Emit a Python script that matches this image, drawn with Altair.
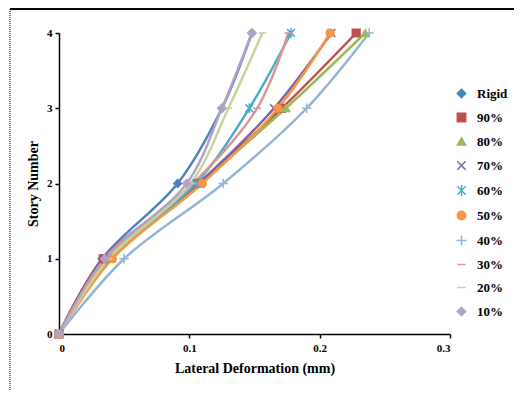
import altair as alt
import pandas as pd

stories = [0, 1, 2, 3, 4]
series_names = ["Rigid", "90%", "80%", "70%", "60%", "50%", "40%", "30%", "20%", "10%"]

rigid = [0, 0.033, 0.091, 0.125, 0.148]
p90 = [0, 0.034, 0.107, 0.171, 0.228]
p80 = [0, 0.040, 0.108, 0.174, 0.235]
p70 = [0, 0.037, 0.107, 0.165, 0.209]
p60 = [0, 0.037, 0.105, 0.146, 0.178]
p50 = [0, 0.041, 0.110, 0.168, 0.208]
p40 = [0, 0.050, 0.126, 0.190, 0.238]
p30 = [0, 0.037, 0.103, 0.152, 0.176]
p20 = [0, 0.038, 0.101, 0.130, 0.156]
p10 = [0, 0.035, 0.098, 0.125, 0.148]
values = [rigid, p90, p80, p70, p60, p50, p40, p30, p20, p10]

colors = ["#4F81BD", "#C0504D", "#9BBB59", "#8064A2", "#4BACC6",
          "#F79646", "#95B3D7", "#D99694", "#C3D69B", "#B3A2C7"]
shapes = ["diamond", "square", "triangle-up",
          "M-1,-1L1,1M-1,1L1,-1",
          "M-1,-1L1,1M-1,1L1,-1M0,-1.3L0,1.3",
          "circle",
          "M-1.2,0L1.2,0M0,-1.2L0,1.2",
          "M-1,0L1,0",
          "M-1,0L1,0",
          "diamond"]

x_ticks = [0, 0.1, 0.2, 0.3]
y_ticks = [0, 1, 2, 3, 4]

rows = []
for i, (name, vals) in enumerate(zip(series_names, values)):
    for s, v in zip(stories, vals):
        rows.append({"series": name, "idx": i, "story": s, "deform": v})
df = pd.DataFrame(rows)

FONT = "Liberation Serif"

x_enc = alt.X("deform:Q", scale=alt.Scale(domain=[0, 0.3], nice=False),
              axis=alt.Axis(values=x_ticks, title="Lateral Deformation (mm)",
                            labelExpr="datum.value == 0 ? '0' : format(datum.value, '.1f')"))
y_enc = alt.Y("story:Q", scale=alt.Scale(domain=[0, 4], nice=False),
              axis=alt.Axis(values=y_ticks, format="d", title="Story Number"))
color_scale = alt.Scale(domain=series_names, range=colors)

base = alt.Chart(df)

lines = base.mark_line(interpolate="catmull-rom", strokeWidth=2.5).encode(
    x=x_enc, y=y_enc,
    color=alt.Color("series:N", scale=color_scale, sort=series_names, title=None,
                    legend=alt.Legend(orient="none", legendX=396, legendY=54,
                                      labelFont=FONT, labelFontWeight="bold", labelFontSize=13,
                                      labelColor="black", rowPadding=9, symbolSize=70,
                                      labelOffset=9, symbolStrokeWidth=1.5)),
    order="story:Q",
)

points = base.mark_point(filled=True, size=60, strokeWidth=1.5, opacity=1).encode(
    x=x_enc, y=y_enc,
    color=alt.Color("series:N", scale=color_scale, sort=series_names, title=None),
    stroke=alt.Stroke("series:N", scale=color_scale, sort=series_names, title=None),
    shape=alt.Shape("series:N", scale=alt.Scale(domain=series_names, range=shapes),
                    sort=series_names, title=None),
)

frame = pd.DataFrame({"a": [0]})
top_border = alt.Chart(frame).mark_rule(color="black", strokeWidth=2).encode(
    x=alt.value(-49), x2=alt.value(460), y=alt.value(-24))
left_border = alt.Chart(frame).mark_rule(color="black", strokeWidth=1, strokeDash=[1, 1]).encode(
    x=alt.value(-49), y=alt.value(-24), y2=alt.value(357))

chart = alt.layer(top_border, left_border, lines, points).properties(
    width=391, height=301,
    autosize="none",
    padding={"left": 51, "top": 25, "right": 64, "bottom": 56},
).configure_view(stroke=None).configure_axis(
    grid=False, domainColor="black", tickColor="black", domainWidth=1.5, tickWidth=1.5,
    tickSize=4, labelFont=FONT, labelFontWeight="bold", labelFontSize=11, labelColor="black",
    titleFont=FONT, titleFontWeight="bold", titleFontSize=14, titleColor="black",
).configure_axisX(labelPadding=4, titlePadding=8).configure_axisY(labelPadding=3, titlePadding=6)

chart.save("out.html", embed_options={"renderer": "svg", "actions": False})
